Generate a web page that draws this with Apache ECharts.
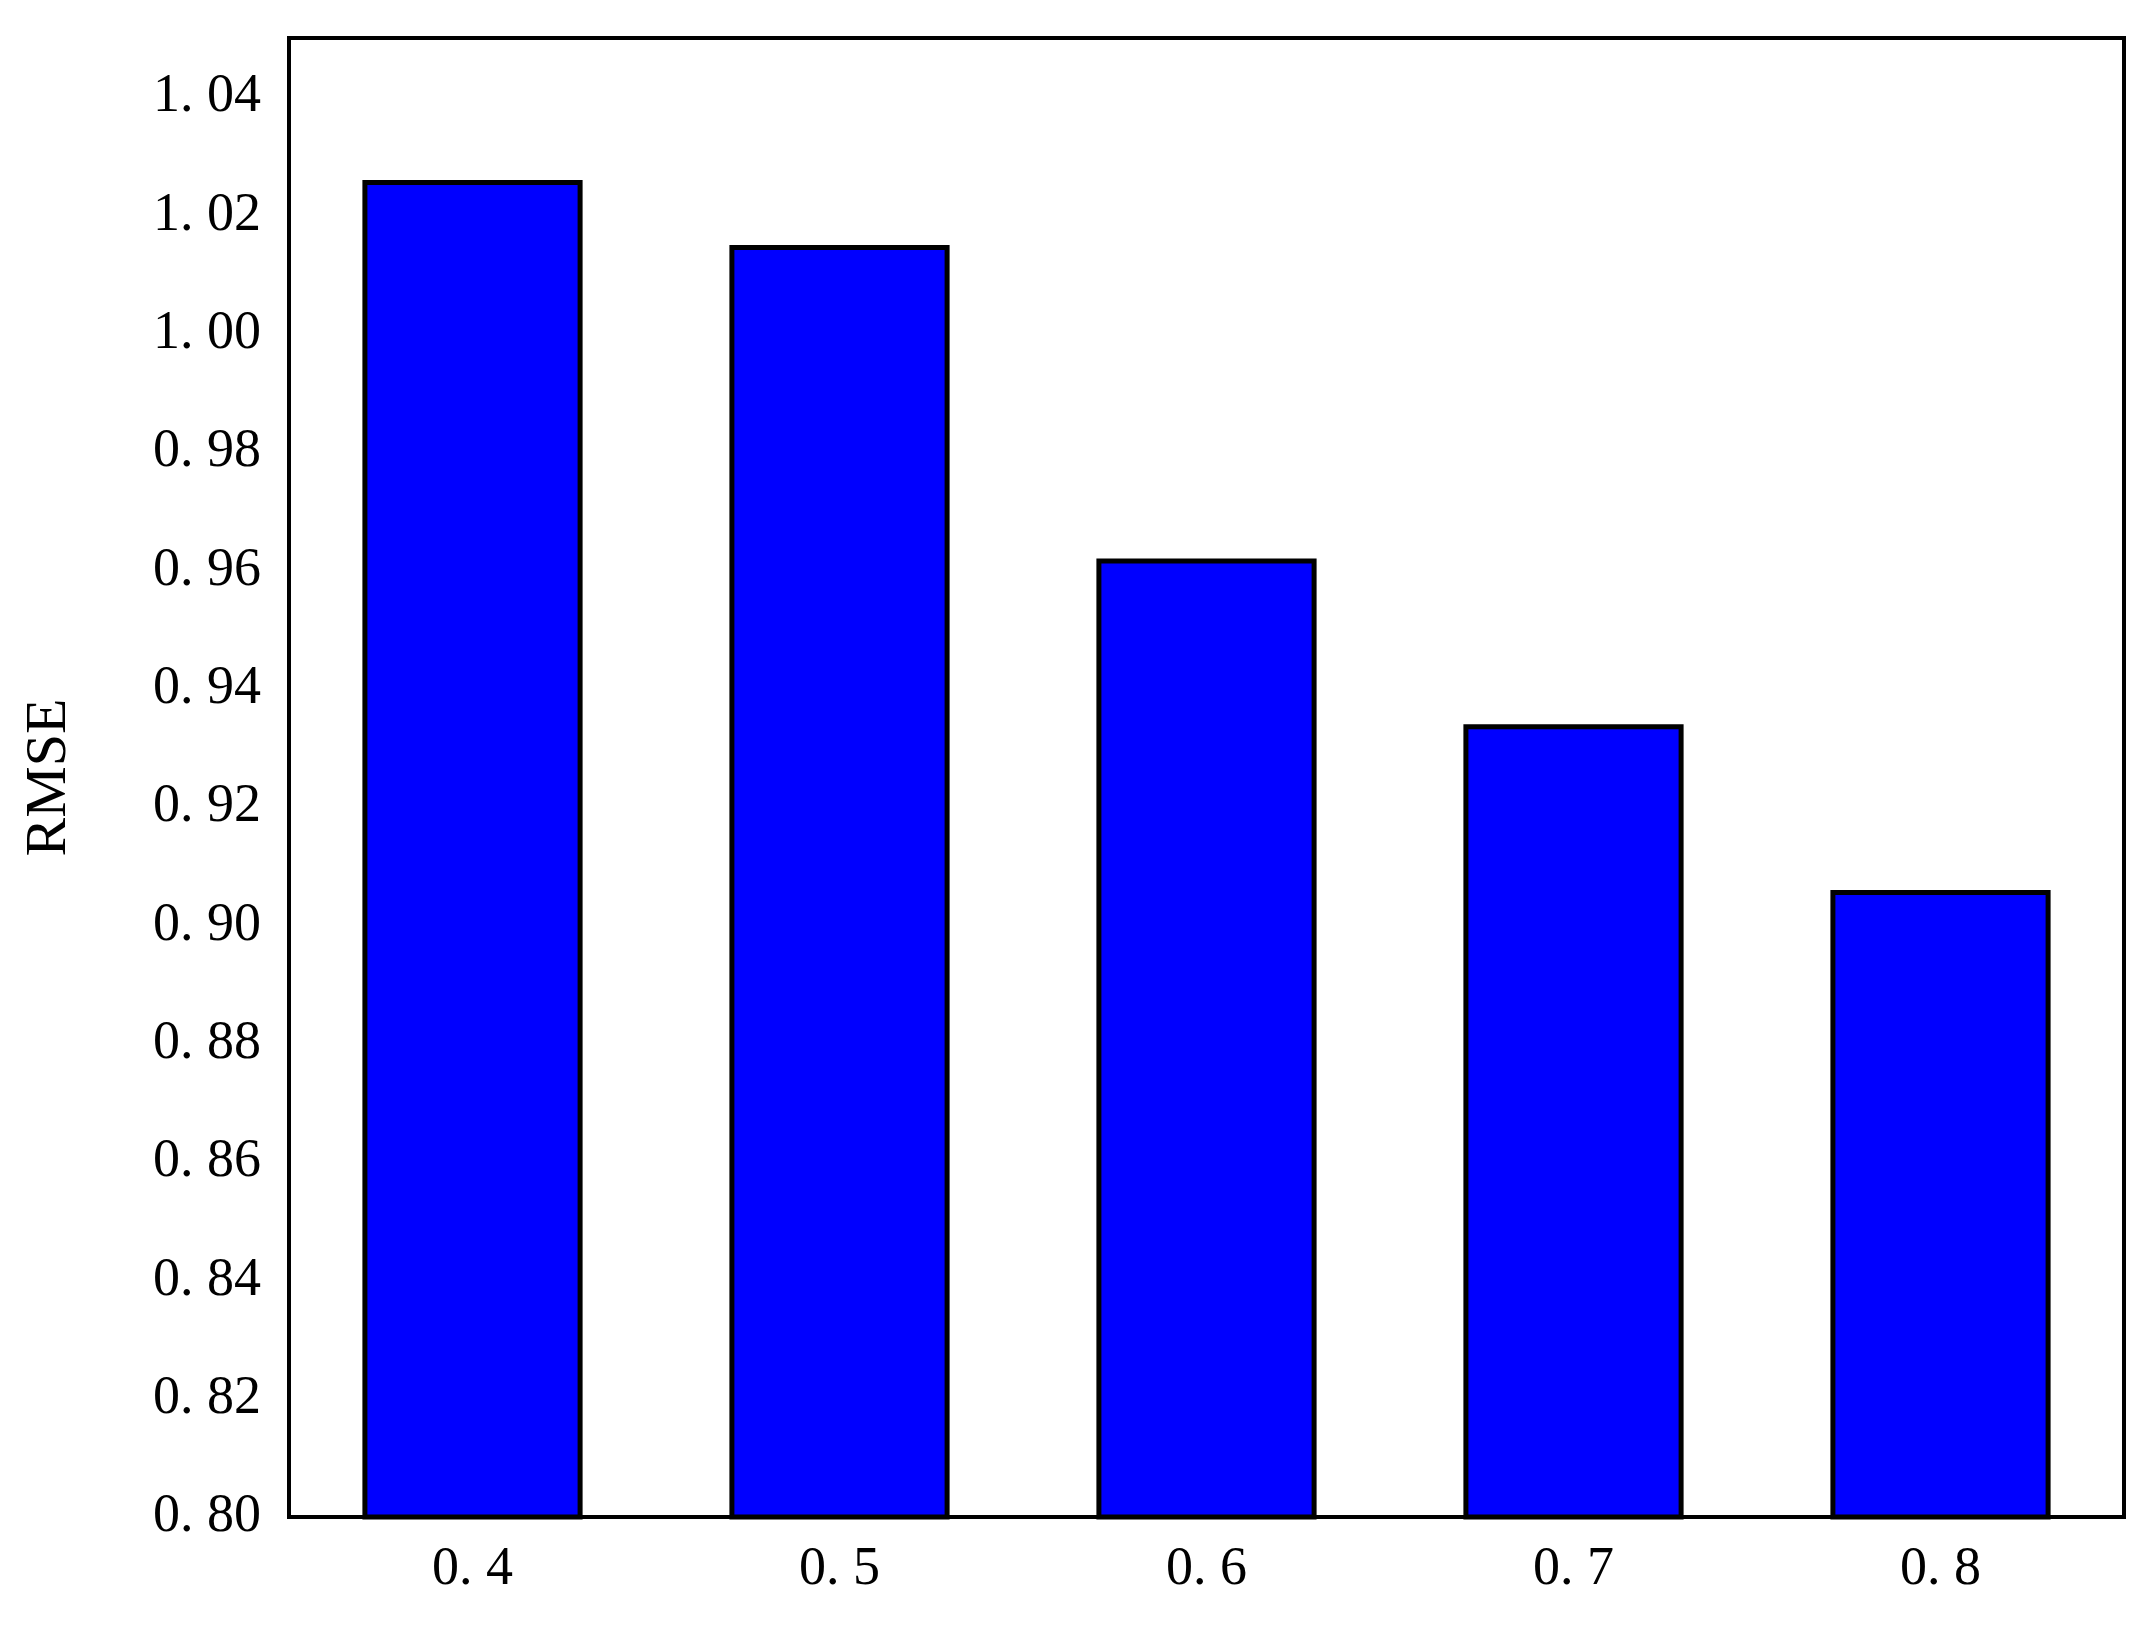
<!DOCTYPE html>
<html>
<head>
<meta charset="UTF-8">
<title>RMSE</title>
<script src="https://cdn.jsdelivr.net/npm/echarts@6/dist/echarts.min.js"></script>
<style>
    html, body { margin: 0; padding: 0; background: #fff; }
    #main { width: 2156px; height: 1642px; }
</style>
</head>
<body>
<div id="main"></div>
<script>
    const categories = ['0.4', '0.5', '0.6', '0.7', '0.8'];
    const rmse = [1.026, 1.015, 0.962, 0.934, 0.906];
    const yTicks = [0.80, 0.82, 0.84, 0.86, 0.88, 0.90, 0.92, 0.94, 0.96, 0.98, 1.00, 1.02, 1.04];

    const font = '"Liberation Serif", "DejaVu Serif", serif';
    const chart = echarts.init(document.getElementById('main'));

    chart.setOption({
        animation: false,
        backgroundColor: '#fff',
        grid: {
            left: 289, right: 32, top: 38, bottom: 125,
            show: true, borderColor: '#000', borderWidth: 4
        },
        xAxis: {
            type: 'category',
            data: categories,
            axisLine: { lineStyle: { color: '#000', width: 4 } },
            axisTick: { alignWithLabel: true, length: 18, lineStyle: { color: '#000', width: 4 } },
            axisLabel: {
                color: '#000', fontSize: 54, fontFamily: font, margin: 26,
                formatter: v => v.replace('.', '. ')
            }
        },
        yAxis: {
            type: 'value',
            min: 0.8, max: 1.05,
            name: 'RMSE',
            nameLocation: 'middle',
            nameGap: 210,
            nameTextStyle: { color: '#000', fontSize: 58, fontFamily: font },
            splitLine: { show: false },
            axisLine: { show: true, lineStyle: { color: '#000', width: 4 } },
            axisTick: { customValues: yTicks, length: 18, lineStyle: { color: '#000', width: 4 } },
            axisLabel: {
                customValues: yTicks,
                color: '#000', fontSize: 54, fontFamily: font, margin: 28,
                formatter: v => v.toFixed(2).replace('.', '. ')
            }
        },
        series: [{
            type: 'bar',
            data: rmse,
            barWidth: '60%',
            itemStyle: { color: '#0000ff', borderColor: '#000', borderWidth: 5 }
        }]
    });
</script>
</body>
</html>
